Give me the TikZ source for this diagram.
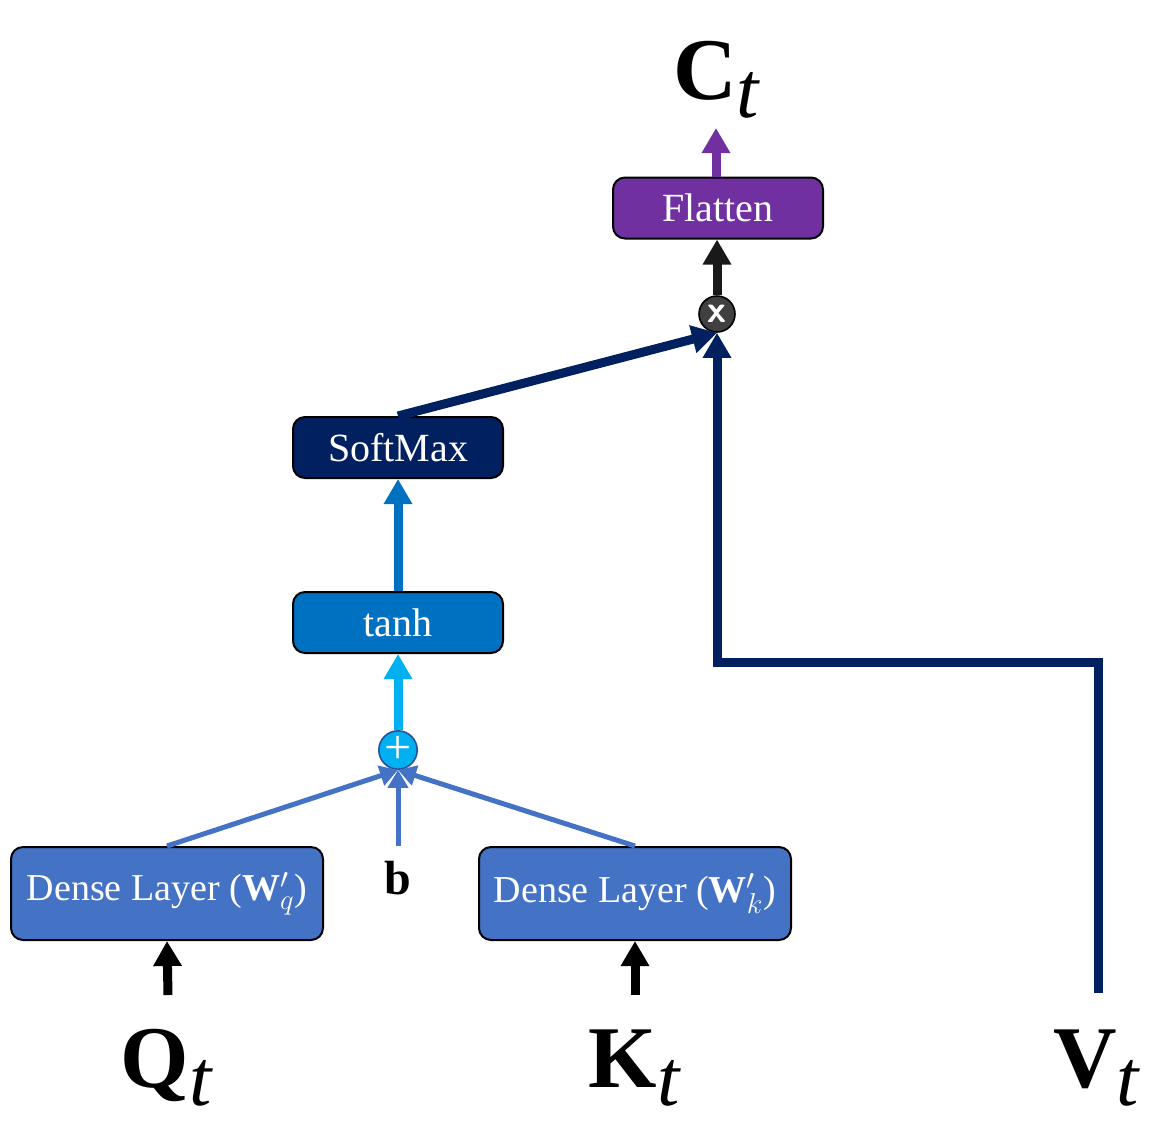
\documentclass[tikz,border=0pt]{standalone}
\usepackage{fontspec}
\setmainfont{Liberation Serif}
\usetikzlibrary{arrows.meta}

\definecolor{flatpurple}{HTML}{7030A0}
\definecolor{navy}{HTML}{002060}
\definecolor{tanhblue}{HTML}{0070C0}
\definecolor{skyblue}{HTML}{00B0F0}
\definecolor{denseblue}{HTML}{4472C4}
\definecolor{opgray}{HTML}{404040}

\newcommand{\bigsub}[1]{\raisebox{-9pt}{\fontsize{40}{40}\selectfont\itshape #1}}

\begin{document}
\begin{tikzpicture}[
    x=0.5pt, y=-0.5pt,
    layer/.style={draw=black, line width=1pt, rounded corners=6pt, text=white,
        font=\fontsize{20}{22}\selectfont, inner sep=0pt,
        minimum width=105pt, minimum height=30.5pt},
    dense/.style={layer, fill=denseblue, font=\fontsize{19}{21}\selectfont,
        minimum width=156pt, minimum height=46.5pt},
    op/.style={circle, draw, line width=0.8pt, minimum size=18pt, inner sep=0pt, text=white},
    big/.style={font=\fontsize{44}{48}\selectfont},
    flow/.style={line width=4.5pt},
    >={Triangle[length=12.5pt, width=13.5pt]}
]
    \useasboundingbox (0,0) rectangle (1172,1121);

    % 输入
    \node[big] (Q) at (166, 1068) {$\mathbf{Q}$\bigsub{t}};
    \node[big] (K) at (634, 1068) {$\mathbf{K}$\bigsub{t}};
    \node[big] (V) at (1096, 1068) {$\mathbf{V}$\bigsub{t}};
    \coordinate (Qin) at (168, 995);
    \coordinate (Kin) at (635, 995);
    \coordinate (Vin) at (1098, 993);

    % 层
    \node[dense] (DQ) at (167, 893.5) {Dense Layer ($\mathbf{W}'_q$)};
    \node[dense] (DK) at (635, 893.5) {Dense Layer ($\mathbf{W}'_k$)};
    \node[font=\fontsize{24}{26}\selectfont\bfseries] (b) at (398, 878) {b};
    \coordinate (bin) at (398, 846);
    \node[op, fill=skyblue, draw=denseblue!60!navy, font=\fontsize{24}{24}\selectfont] (add) at (398, 750) {+};
    \node[layer, fill=tanhblue] (tanh) at (398, 622.5) {tanh};
    \node[layer, fill=navy] (sm) at (398, 447.5) {SoftMax};
    \node[op, fill=opgray, draw=black, font=\fontsize{19}{19}\selectfont\sffamily\bfseries] (mul) at (717, 314) {x};
    \node[layer, fill=flatpurple] (flat) at (718, 208) {Flatten};
    \node[big] (C) at (716, 80) {$\mathbf{C}$\bigsub{t}};
    \coordinate (Cout) at (716, 128);

    % 1. 输入箭头
    \draw[->, flow] (Qin) -- (DQ.south);
    \draw[->, flow] (Kin) -- (DK.south);

    % 2. 相加
    \draw[->, denseblue, line width=2.5pt, >={Triangle[length=9pt, width=10pt]}] (DQ.north) -- (add.south);
    \draw[->, denseblue, line width=2.5pt, >={Triangle[length=9pt, width=10pt]}] (DK.north) -- (add.south);
    \draw[->, denseblue, line width=2.5pt, >={Triangle[length=9pt, width=10pt]}] (bin) -- (add.south);

    % 3. tanh -> SoftMax
    \draw[->, flow, skyblue] (add.north) -- (tanh.south);
    \draw[->, flow, tanhblue] (tanh.north) -- (sm.south);

    % 4. 相乘
    \draw[->, flow, navy] (sm.north) -- (mul.south);
    \draw[->, flow, navy] (Vin) -- (1098, 662) -- (717, 662) -- (mul.south);

    % 5. 输出
    \draw[->, flow, black!90] (mul.north) -- (flat.south -| mul.north);
    \draw[->, flow, flatpurple] (flat.north -| Cout) -- (Cout);
\end{tikzpicture}
\end{document}
